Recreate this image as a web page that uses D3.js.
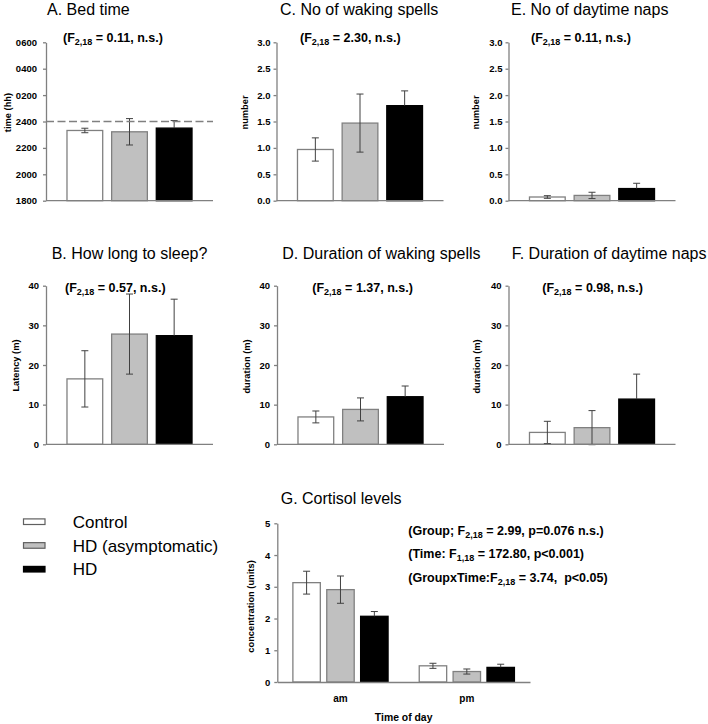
<!DOCTYPE html>
<html><head><meta charset="utf-8">
<script src="https://cdn.jsdelivr.net/npm/d3@7"></script>
<style>body{margin:0;background:#fff} svg{display:block} text{font-family:"Liberation Sans",Arial,Helvetica,sans-serif;white-space:pre}</style>
</head><body><svg id="c" width="708" height="724"></svg>
<script>
// ---------- data ----------
const groups = ["Control", "HD (asymptomatic)", "HD"];
const bedTime = [23.32, 23.22, 23.5];          // hours (24 = midnight)
const bedTimeErr = [0.17, 1.0, 0.57];
const bedTimeTicks = [18, 20, 22, 24, 26, 28, 30];
const bedTimeTickLabels = ["1800", "2000", "2200", "2400", "0200", "0400", "0600"];
const midnight = 24;
const latency = [16.5, 27.8, 27.4];
const latencyErr = [7.1, 10.1, 9.2];
const wakingSpells = [0.97, 1.47, 1.80];
const wakingSpellsErr = [0.22, 0.55, 0.28];
const wakingDuration = [6.9, 8.8, 12.0];
const wakingDurationErr = [1.5, 2.9, 2.7];
const napCount = [0.07, 0.10, 0.23];
const napCountErr = [0.025, 0.06, 0.10];
const napDuration = [3.0, 4.2, 11.4];
const napDurationErr = [2.8, 4.3, 6.3];
const timeOfDay = ["am", "pm"];
const cortisolAM = [3.13, 2.91, 2.07];
const cortisolAMErr = [0.36, 0.43, 0.15];
const cortisolPM = [0.51, 0.33, 0.46];
const cortisolPMErr = [0.08, 0.08, 0.10];
const countTicks = [0, 0.5, 1, 1.5, 2, 2.5, 3];
const minuteTicks = [0, 10, 20, 30, 40];
const cortisolTicks = [0, 1, 2, 3, 4, 5];

// ---------- styling ----------
const fills = ["#ffffff", "#c0c0c0", "#000000"];
const strokes = ["#808080", "#808080", "#000000"];
const axisColor = "#808080";
const errColor = "#404040";

const svg = d3.select("#c");

function stat(g, x, y, parts, fs, subFs) {
  const t = g.append("text").attr("x", x).attr("y", y)
    .attr("font-weight", "bold").attr("font-size", fs).attr("fill", "#000");
  let prevSub = false;
  parts.forEach(([s, sub]) => {
    let dy = 0;
    if (sub && !prevSub) dy = 3;
    if (!sub && prevSub) dy = -3;
    t.append("tspan").attr("dy", dy).attr("font-size", sub ? subFs : fs).text(s);
    prevSub = sub;
  });
}

function errorBars(g, xs, ys, vals, errs, cw) {
  vals.forEach((v, i) => {
    const cx = xs(i), top = ys(v + errs[i]), bot = ys(v - errs[i]);
    const upperOnly = fills[i] === "#000000";
    const yEnd = upperOnly ? ys(v) : bot;
    g.append("line").attr("x1", cx).attr("x2", cx).attr("y1", top).attr("y2", yEnd)
      .attr("stroke", errColor).attr("stroke-width", 1);
    (upperOnly ? [top] : [top, bot]).forEach(yy => g.append("line")
      .attr("x1", cx - cw / 2).attr("x2", cx + cw / 2).attr("y1", yy).attr("y2", yy)
      .attr("stroke", errColor).attr("stroke-width", 1));
  });
}

function yAxis(g, x0, y, ticks, fmt, pad) {
  const ax = g.append("g").attr("transform", `translate(${x0},0)`)
    .call(d3.axisLeft(y).tickValues(ticks).tickFormat(fmt).tickSize(3).tickSizeOuter(0).tickPadding(pad));
  ax.select(".domain").attr("stroke", axisColor).attr("stroke-width", 1.3);
  ax.selectAll(".tick line").attr("stroke", axisColor).attr("stroke-width", 1.3);
  ax.selectAll(".tick text").attr("font-family", '"Liberation Sans",Arial,sans-serif')
    .attr("font-weight", "bold").attr("font-size", 9.5).attr("fill", "#000");
}

const W = 167;
const panels = [
  { title: "A. Bed time", tx: 47, ty: 15, stat: [["(F", false], ["2,18", true], [" = 0.11, n.s.)", false]], sx: 63, sy: 41.7,
    ylab: "time (hh)", lx: 7.5, ly: 112.5, x0: 46, yTop: 42.3, yBot: 200.7,
    domain: [18, 30], ticks: bedTimeTicks, fmt: (d, i) => bedTimeTickLabels[i], vals: bedTime, errs: bedTimeErr, ref: midnight, pad: 6 },
  { title: "C. No of waking spells", tx: 280, ty: 15, stat: [["(F", false], ["2,18", true], [" = 2.30, n.s.)", false]], sx: 300, sy: 41.7,
    ylab: "number", lx: 245, ly: 112.5, x0: 276.5, yTop: 42.3, yBot: 200.7,
    domain: [0, 3], ticks: countTicks, fmt: d3.format(".1f"), vals: wakingSpells, errs: wakingSpellsErr, pad: 3 },
  { title: "E. No of daytime naps", tx: 511, ty: 15, stat: [["(F", false], ["2,18", true], [" = 0.11, n.s.)", false]], sx: 531, sy: 41.7,
    ylab: "number", lx: 475.3, ly: 112.5, x0: 508.5, yTop: 42.3, yBot: 200.7,
    domain: [0, 3], ticks: countTicks, fmt: d3.format(".1f"), vals: napCount, errs: napCountErr, pad: 3 },
  { title: "B. How long to sleep?", tx: 51.7, ty: 259, stat: [["(F", false], ["2,18", true], [" = 0.57, n.s.)", false]], sx: 65, sy: 292,
    ylab: "Latency (m)", lx: 16, ly: 365.5, x0: 46, yTop: 285.7, yBot: 444.3,
    domain: [0, 40], ticks: minuteTicks, fmt: d3.format("d"), vals: latency, errs: latencyErr, pad: 4 },
  { title: "D. Duration of waking spells", tx: 282.3, ty: 259, stat: [["(F", false], ["2,18", true], [" = 1.37, n.s.)", false]], sx: 312.3, sy: 292,
    ylab: "duration (m)", lx: 247, ly: 366.5, x0: 277, yTop: 285.7, yBot: 444.3,
    domain: [0, 40], ticks: minuteTicks, fmt: d3.format("d"), vals: wakingDuration, errs: wakingDurationErr, pad: 4 },
  { title: "F. Duration of daytime naps", tx: 511.7, ty: 259, stat: [["(F", false], ["2,18", true], [" = 0.98, n.s.)", false]], sx: 542.3, sy: 292,
    ylab: "duration (m)", lx: 477, ly: 366.5, x0: 508.5, yTop: 285.7, yBot: 444.3,
    domain: [0, 40], ticks: minuteTicks, fmt: d3.format("d"), vals: napDuration, errs: napDurationErr, pad: 4 }
];

panels.forEach(p => {
  const g = svg.append("g");
  const y = d3.scaleLinear().domain(p.domain).range([p.yBot, p.yTop]);
  const x = d3.scaleBand().domain(d3.range(groups.length)).range([p.x0, p.x0 + W])
    .paddingInner(0.2).paddingOuter(0.47);
  // bars
  g.selectAll("rect.bar").data(p.vals).join("rect").attr("class", "bar")
    .attr("x", (d, i) => x(i)).attr("width", x.bandwidth())
    .attr("y", d => y(d)).attr("height", d => y(p.domain[0]) - y(d))
    .attr("fill", (d, i) => fills[i]).attr("stroke", (d, i) => strokes[i]).attr("stroke-width", 1.3);
  errorBars(g, i => x(i) + x.bandwidth() / 2, y, p.vals, p.errs, 7);
  // baseline
  g.append("line").attr("x1", p.x0).attr("x2", p.x0 + W).attr("y1", p.yBot).attr("y2", p.yBot)
    .attr("stroke", axisColor).attr("stroke-width", 1.3);
  if (p.ref !== undefined) {
    g.append("line").attr("x1", p.x0).attr("x2", p.x0 + W).attr("y1", y(p.ref)).attr("y2", y(p.ref))
      .attr("stroke", axisColor).attr("stroke-width", 1.5).attr("stroke-dasharray", "8,3.5");
  }
  yAxis(g, p.x0, y, p.ticks, p.fmt, p.pad);
  g.append("text").attr("x", p.tx).attr("y", p.ty).attr("font-size", 16).attr("fill", "#000").text(p.title);
  stat(g, p.sx, p.sy, p.stat, 12.5, 9);
  g.append("text").attr("transform", `translate(${p.lx},${p.ly}) rotate(-90)`)
    .attr("text-anchor", "middle").attr("dy", "0.35em")
    .attr("font-size", 9.3).attr("font-weight", "bold").attr("fill", "#000").text(p.ylab);
});

// ---------- panel G ----------
{
  const g = svg.append("g");
  const x0 = 277.3, x1 = 530, yTop = 523.3, yBot = 682;
  const y = d3.scaleLinear().domain([0, 5]).range([yBot, yTop]);
  const xo = d3.scaleBand().domain(timeOfDay).range([x0, x1]).padding(0);
  const xi = d3.scaleBand().domain(d3.range(groups.length)).range([0, xo.bandwidth()])
    .paddingInner(0.19).paddingOuter(0.46);
  const series = [[cortisolAM, cortisolAMErr], [cortisolPM, cortisolPMErr]];
  timeOfDay.forEach((t, ti) => {
    const [vals, errs] = series[ti];
    g.selectAll(null).data(vals).join("rect")
      .attr("x", (d, i) => xo(t) + xi(i)).attr("width", xi.bandwidth())
      .attr("y", d => y(d)).attr("height", d => y(0) - y(d))
      .attr("fill", (d, i) => fills[i]).attr("stroke", (d, i) => strokes[i]).attr("stroke-width", 1.3);
    errorBars(g, i => xo(t) + xi(i) + xi.bandwidth() / 2, y, vals, errs, 7);
  });
  const xa = g.append("g").attr("transform", `translate(0,${yBot})`)
    .call(d3.axisBottom(xo).tickSize(0).tickSizeOuter(0).tickPadding(13));
  xa.select(".domain").attr("stroke", axisColor).attr("stroke-width", 1.3);
  xa.selectAll(".tick text").attr("font-family", '"Liberation Sans",Arial,sans-serif')
    .attr("font-weight", "bold").attr("font-size", 10).attr("fill", "#000");
  yAxis(g, x0, y, cortisolTicks, d3.format("d"), 4);
  g.append("text").attr("x", 280.7).attr("y", 504.3).attr("font-size", 16).attr("fill", "#000").text("G. Cortisol levels");
  g.append("text").attr("transform", `translate(250.3,606.5) rotate(-90)`)
    .attr("text-anchor", "middle").attr("dy", "0.35em")
    .attr("font-size", 9.3).attr("font-weight", "bold").attr("fill", "#000").text("concentration (units)");
  g.append("text").attr("x", (x0 + x1) / 2).attr("y", 720.5).attr("text-anchor", "middle")
    .attr("font-size", 10.4).attr("font-weight", "bold").attr("fill", "#000").text("Time of day");
  stat(g, 408.3, 535, [["(Group; F", false], ["2,18", true], [" = 2.99, p=0.076 n.s.)", false]], 12.5, 9);
  stat(g, 408.3, 558.3, [["(Time: F", false], ["1,18", true], [" = 172.80, p<0.001)", false]], 12.5, 9);
  stat(g, 408.3, 581.7, [["(GroupxTime:F", false], ["2,18", true], [" = 3.74,  p<0.05)", false]], 12.5, 9);
}

// ---------- legend ----------
{
  const g = svg.append("g");
  groups.forEach((name, i) => {
    const cy = 521.7 + i * 23.75;
    g.append("rect").attr("x", 23.5).attr("y", cy - 2.8).attr("width", 21.5).attr("height", 5.6)
      .attr("fill", fills[i]).attr("stroke", i === 2 ? "#000" : "#606060").attr("stroke-width", 1.2);
    g.append("text").attr("x", 72.7).attr("y", cy + 6.2).attr("font-size", 17).attr("fill", "#000").text(name);
  });
}
</script></body></html>
